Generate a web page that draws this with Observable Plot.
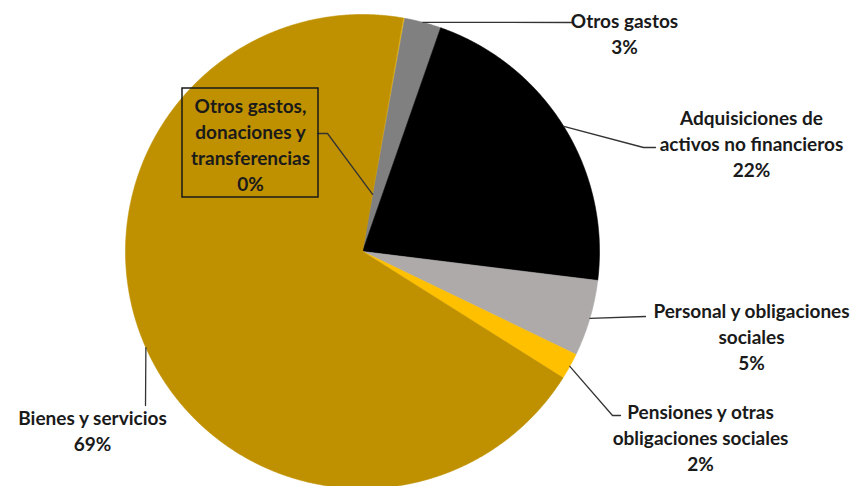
<!DOCTYPE html>
<html><head><meta charset="utf-8">
<script src="https://cdn.jsdelivr.net/npm/d3@7"></script>
<script src="https://cdn.jsdelivr.net/npm/@observablehq/plot@0.6"></script>
<style>html,body{margin:0;padding:0;background:#fff;}</style>
</head><body><div id="chart"></div>
<script>
// ---- data ----
const categories = [
  "Otros gastos, donaciones y transferencias",
  "Otros gastos",
  "Adquisiciones de activos no financieros",
  "Personal y obligaciones sociales",
  "Pensiones y otras obligaciones sociales",
  "Bienes y servicios"
];
const shares = [0.1, 2.5, 21.6, 5.2, 1.8, 68.8];
const labelLines = [
  ["Otros gastos,", "donaciones y", "transferencias"],
  ["Otros gastos"],
  ["Adquisiciones de", "activos no financieros"],
  ["Personal y obligaciones", "sociales"],
  ["Pensiones y otras", "obligaciones sociales"],
  ["Bienes y servicios"]
];

// ---- styles & layout ----
const colors = ["#F2C21A", "#808080", "#000000", "#AEAAAA", "#FFC000", "#BF9000"];
const W = 856, H = 486, CX = 362, CY = 251, R = 237, START_DEG = 9.9;
const FONT = "'Liberation Sans Narrow', 'Lato', sans-serif";
const labelPos = [
  {x: 250, y: 143}, {x: 624, y: 32}, {x: 751, y: 142},
  {x: 751, y: 335}, {x: 700, y: 436}, {x: 92, y: 429}
];
const leaderLayout = [
  {r: 0.245, pts: [[327, 133], [317, 133]]},
  {r: 1, pts: [[572, 22]]},
  {r: 1, pts: [[643, 147], [655, 147]]},
  {r: 1, pts: [[645, 316]]},
  {r: 1, pts: [[612, 415], [620, 415]]},
  {r: 1, pts: [[145, 405]]}
];
const box = {x1: 182, x2: 318, y1: 88, y2: 197};

// ---- geometry from the data ----
const a0 = START_DEG * Math.PI / 180;
const arcs = d3.pie().sort(null).startAngle(a0).endAngle(a0 + 2 * Math.PI)(shares);
const pt = (a, r) => ({x: CX + r * R * Math.sin(a), y: CY - r * R * Math.cos(a)});

const slicePts = [];
arcs.forEach((arc, i) => {
  const name = categories[i];
  slicePts.push({name, x: CX, y: CY});
  const n = Math.max(2, Math.ceil((arc.endAngle - arc.startAngle) / 0.004));
  for (let k = 0; k <= n; k++) {
    const a = arc.startAngle + (arc.endAngle - arc.startAngle) * k / n;
    slicePts.push({name, ...pt(a, 1)});
  }
  slicePts.push({name, x: CX, y: CY});
});

const leaderPts = [];
arcs.forEach((arc, i) => {
  const mid = (arc.startAngle + arc.endAngle) / 2;
  const L = leaderLayout[i];
  leaderPts.push({id: i, ...pt(mid, L.r)});
  L.pts.forEach(([x, y]) => leaderPts.push({id: i, x, y}));
});

const labels = categories.map((c, i) => ({
  x: labelPos[i].x, y: labelPos[i].y,
  text: [...labelLines[i], Math.round(shares[i]) + "%"].join("\n")
}));

const chart = Plot.plot({
  width: W, height: H, margin: 0,
  x: {domain: [0, W], range: [0, W], axis: null},
  y: {domain: [0, H], range: [0, H], axis: null},
  color: {domain: categories, range: colors},
  style: {background: "#fff", fontFamily: FONT},
  marks: [
    Plot.line(slicePts, {x: "x", y: "y", z: "name", fill: "name", stroke: "name", strokeWidth: 0.6}),
    Plot.line(leaderPts, {x: "x", y: "y", z: "id", stroke: "#333", strokeWidth: 1.3}),
    Plot.rect([box], {x1: "x1", x2: "x2", y1: "y1", y2: "y2", fill: "none", stroke: "#1a1a1a", strokeWidth: 1.5}),
    Plot.text(labels, {x: "x", y: "y", text: "text", lineAnchor: "middle", lineHeight: 1.38,
      fontSize: 19, fontWeight: "bold", fill: "#1a1a1a", fontFamily: FONT})
  ]
});
document.getElementById("chart").appendChild(chart);
</script>
</body></html>
